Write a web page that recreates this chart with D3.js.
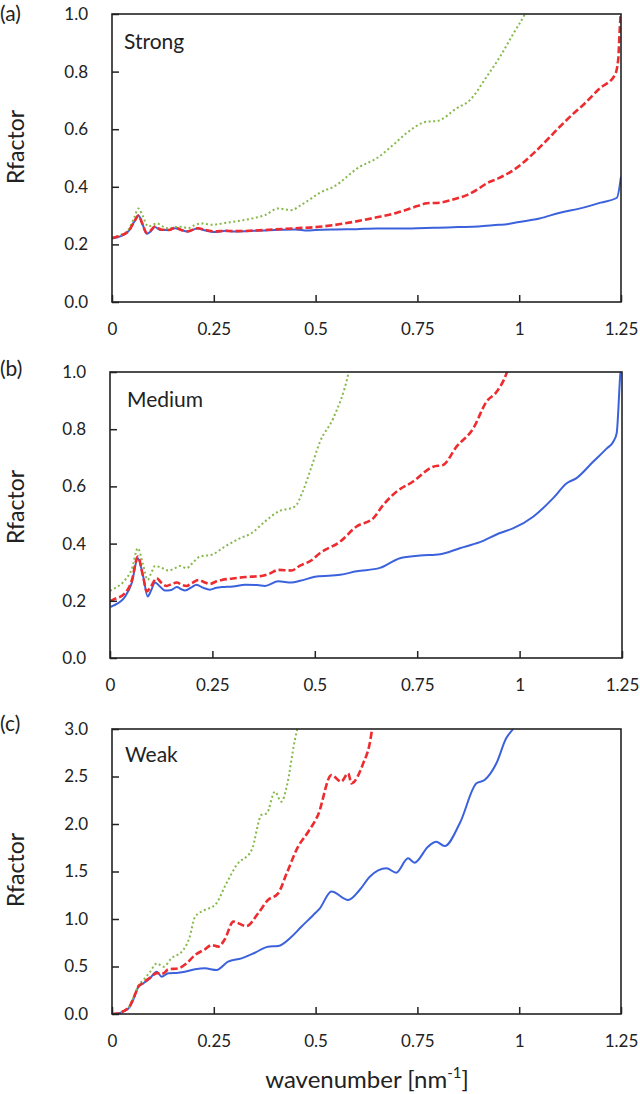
<!DOCTYPE html>
<html><head><meta charset="utf-8">
<script src="https://cdn.jsdelivr.net/npm/d3@7"></script>
<style>body{margin:0;background:#fff}svg{display:block}text{font-family:Lato,"Open Sans",sans-serif;fill:#222}</style>
</head><body>
<svg id="c" width="640" height="1094"></svg>
<script>
// ---- data ----
const xTicks = [0, 0.25, 0.5, 0.75, 1, 1.25];
const xTickLabels = ["0", "0.25", "0.5", "0.75", "1", "1.25"];
const yTicksAB = [0, 0.2, 0.4, 0.6, 0.8, 1.0];
const yTicksC = [0, 0.5, 1.0, 1.5, 2.0, 2.5, 3.0];
const panelNames = ["Strong", "Medium", "Weak"];
const panelTags = ["(a)", "(b)", "(c)"];

const strongSolid = [[0,0.22],[0.02,0.228],[0.04,0.245],[0.055,0.28],[0.065,0.30],[0.075,0.27],[0.085,0.237],[0.095,0.245],[0.105,0.26],[0.12,0.25],[0.14,0.25],[0.155,0.256],[0.17,0.25],[0.185,0.245],[0.21,0.255],[0.23,0.248],[0.25,0.243],[0.28,0.247],[0.3,0.245],[0.35,0.247],[0.4,0.25],[0.45,0.252],[0.48,0.248],[0.5,0.25],[0.55,0.252],[0.6,0.253],[0.65,0.255],[0.7,0.255],[0.75,0.256],[0.8,0.258],[0.85,0.26],[0.9,0.262],[0.95,0.268],[0.97,0.27],[1.0,0.278],[1.05,0.29],[1.1,0.31],[1.15,0.325],[1.2,0.345],[1.24,0.362],[1.25,0.435]];
const strongDashed = [[0,0.222],[0.02,0.23],[0.04,0.245],[0.055,0.28],[0.065,0.30],[0.075,0.27],[0.085,0.24],[0.095,0.248],[0.105,0.262],[0.12,0.252],[0.14,0.25],[0.155,0.258],[0.17,0.25],[0.185,0.245],[0.21,0.256],[0.23,0.25],[0.25,0.245],[0.28,0.247],[0.3,0.246],[0.35,0.248],[0.4,0.252],[0.45,0.256],[0.5,0.26],[0.544,0.267],[0.6,0.28],[0.65,0.294],[0.7,0.31],[0.75,0.333],[0.773,0.343],[0.806,0.345],[0.84,0.357],[0.871,0.371],[0.9,0.393],[0.92,0.412],[0.95,0.43],[0.986,0.458],[1.035,0.516],[1.07,0.565],[1.1,0.609],[1.13,0.65],[1.157,0.684],[1.198,0.742],[1.235,0.788],[1.243,0.84],[1.247,0.95],[1.25,1.02]];
const strongDotted = [[0,0.222],[0.02,0.232],[0.04,0.25],[0.055,0.295],[0.065,0.325],[0.075,0.3],[0.089,0.262],[0.1,0.268],[0.11,0.273],[0.125,0.262],[0.138,0.255],[0.155,0.26],[0.171,0.261],[0.187,0.256],[0.2,0.265],[0.22,0.273],[0.245,0.268],[0.28,0.275],[0.31,0.281],[0.35,0.292],[0.376,0.302],[0.408,0.325],[0.441,0.319],[0.462,0.335],[0.49,0.36],[0.511,0.38],[0.544,0.40],[0.609,0.47],[0.65,0.499],[0.69,0.545],[0.723,0.586],[0.773,0.626],[0.797,0.628],[0.846,0.672],[0.879,0.701],[0.92,0.782],[0.953,0.852],[0.986,0.933],[1.014,1.0],[1.03,1.05]];

const mediumSolid = [[0,0.178],[0.008,0.183],[0.037,0.215],[0.053,0.262],[0.068,0.349],[0.081,0.285],[0.092,0.215],[0.1,0.235],[0.11,0.264],[0.122,0.25],[0.134,0.236],[0.15,0.238],[0.163,0.248],[0.175,0.24],[0.183,0.236],[0.2,0.248],[0.211,0.256],[0.228,0.245],[0.244,0.239],[0.26,0.246],[0.273,0.248],[0.3,0.25],[0.33,0.256],[0.36,0.255],[0.378,0.252],[0.411,0.268],[0.443,0.264],[0.464,0.27],[0.505,0.285],[0.562,0.291],[0.602,0.303],[0.659,0.315],[0.708,0.349],[0.757,0.358],[0.806,0.363],[0.854,0.384],[0.903,0.405],[0.952,0.437],[0.985,0.454],[1.034,0.495],[1.082,0.559],[1.115,0.611],[1.139,0.629],[1.18,0.687],[1.213,0.733],[1.229,0.757],[1.237,0.786],[1.246,0.995],[1.25,1.05]];
const mediumDashed = [[0,0.198],[0.008,0.204],[0.037,0.227],[0.053,0.27],[0.068,0.355],[0.08,0.29],[0.09,0.233],[0.1,0.25],[0.114,0.279],[0.126,0.262],[0.138,0.252],[0.15,0.258],[0.163,0.264],[0.175,0.256],[0.187,0.252],[0.2,0.262],[0.216,0.273],[0.23,0.265],[0.244,0.259],[0.26,0.268],[0.273,0.273],[0.3,0.278],[0.33,0.283],[0.37,0.287],[0.39,0.295],[0.411,0.308],[0.443,0.306],[0.464,0.323],[0.49,0.34],[0.513,0.367],[0.562,0.407],[0.602,0.46],[0.643,0.489],[0.667,0.535],[0.7,0.582],[0.74,0.617],[0.789,0.669],[0.813,0.675],[0.846,0.739],[0.887,0.803],[0.919,0.896],[0.944,0.931],[0.968,0.995],[0.98,1.05]];
const mediumDotted = [[0,0.235],[0.008,0.241],[0.037,0.273],[0.053,0.31],[0.068,0.384],[0.08,0.33],[0.092,0.273],[0.1,0.295],[0.11,0.322],[0.126,0.315],[0.142,0.306],[0.16,0.315],[0.171,0.322],[0.187,0.314],[0.2,0.33],[0.22,0.355],[0.248,0.361],[0.281,0.39],[0.313,0.416],[0.346,0.437],[0.378,0.477],[0.411,0.512],[0.452,0.53],[0.47,0.58],[0.49,0.66],[0.513,0.757],[0.545,0.838],[0.582,0.995],[0.59,1.05]];

const weakSolid = [[0,0],[0.015,0.005],[0.028,0.024],[0.044,0.077],[0.055,0.18],[0.065,0.288],[0.077,0.323],[0.093,0.375],[0.11,0.445],[0.122,0.393],[0.138,0.428],[0.163,0.435],[0.179,0.445],[0.204,0.47],[0.228,0.481],[0.257,0.463],[0.285,0.551],[0.318,0.586],[0.351,0.645],[0.383,0.709],[0.408,0.716],[0.441,0.814],[0.465,0.919],[0.494,1.04],[0.51,1.11],[0.539,1.29],[0.58,1.2],[0.608,1.305],[0.633,1.445],[0.674,1.534],[0.698,1.487],[0.727,1.639],[0.743,1.593],[0.776,1.761],[0.796,1.814],[0.817,1.768],[0.854,2.007],[0.895,2.428],[0.915,2.463],[0.944,2.639],[0.968,2.902],[0.985,3.0],[1.0,3.1]];
const weakDashed = [[0,0],[0.015,0.005],[0.028,0.03],[0.044,0.085],[0.055,0.19],[0.065,0.29],[0.077,0.33],[0.093,0.38],[0.11,0.43],[0.126,0.428],[0.138,0.47],[0.163,0.481],[0.183,0.533],[0.204,0.621],[0.228,0.681],[0.245,0.726],[0.261,0.709],[0.277,0.786],[0.298,0.972],[0.33,0.926],[0.359,1.06],[0.383,1.2],[0.408,1.27],[0.429,1.481],[0.457,1.761],[0.482,1.919],[0.506,2.095],[0.539,2.516],[0.563,2.446],[0.58,2.534],[0.588,2.428],[0.617,2.639],[0.633,2.849],[0.639,3.0],[0.645,3.1]];
const weakDotted = [[0,0],[0.015,0.005],[0.028,0.03],[0.044,0.09],[0.055,0.2],[0.065,0.3],[0.077,0.358],[0.093,0.44],[0.11,0.533],[0.126,0.498],[0.146,0.586],[0.175,0.674],[0.19,0.8],[0.204,1.024],[0.228,1.095],[0.253,1.147],[0.281,1.376],[0.306,1.568],[0.343,1.726],[0.367,2.095],[0.38,2.112],[0.4,2.34],[0.416,2.235],[0.429,2.393],[0.449,2.884],[0.455,3.0],[0.46,3.1]];

// ---- layout ----
const panels = [
  {left:112,right:621,top:14,bottom:302,yMax:1.0,yTicks:yTicksAB,series:[strongSolid,strongDotted,strongDashed],tagY:21,ylabY:147,nameY:49,nameX:124},
  {left:110,right:622,top:372,bottom:658,yMax:1.0,yTicks:yTicksAB,series:[mediumSolid,mediumDotted,mediumDashed],tagY:376,ylabY:507,nameY:407,nameX:127},
  {left:112,right:621,top:729,bottom:1014,yMax:3.0,yTicks:yTicksC,series:[weakSolid,weakDotted,weakDashed],tagY:731,ylabY:870,nameY:762,nameX:125}
];
const styles = [
  {color:"#3b62dc",width:2,dash:null},
  {color:"#86b84a",width:2,dash:"2,2.6"},
  {color:"#ee2b2e",width:2.6,dash:"7,3"}
];

const svg = d3.select("#c");
panels.forEach((p,i)=>{
  const x = d3.scaleLinear().domain([0,1.25]).range([p.left,p.right]);
  const y = d3.scaleLinear().domain([0,p.yMax]).range([p.bottom,p.top]);
  const g = svg.append("g");
  const cid = "clip"+i;
  svg.append("clipPath").attr("id",cid).append("rect")
    .attr("x",p.left).attr("y",p.top).attr("width",p.right-p.left).attr("height",p.bottom-p.top);

  const line = d3.line().x(d=>x(d[0])).y(d=>y(d[1])).curve(d3.curveMonotoneX);
  const lg = g.append("g").attr("clip-path",`url(#${cid})`);
  p.series.forEach((s,k)=>{
    const st = styles[k];
    lg.append("path").datum(s).attr("d",line).attr("fill","none")
      .attr("stroke",st.color).attr("stroke-width",st.width)
      .attr("stroke-dasharray",st.dash).attr("stroke-linejoin","round");
  });

  const ya = d3.axisLeft(y).tickValues(p.yTicks).tickFormat(d3.format(".1f")).tickSize(-7).tickPadding(24);
  const yg = g.append("g").attr("transform",`translate(${p.left},0)`).call(ya);
  const xa = d3.axisBottom(x).tickValues(xTicks).tickFormat((d,j)=>xTickLabels[j]).tickSize(-7).tickPadding(21);
  const xg = g.append("g").attr("transform",`translate(0,${p.bottom})`).call(xa);
  [yg,xg].forEach(a=>{
    a.select(".domain").remove();
    a.selectAll(".tick line").attr("stroke","#222").attr("stroke-width",1.5);
    a.selectAll(".tick text").attr("font-size",17).attr("font-family","Lato").attr("fill","#222");
  });
  g.append("rect").attr("x",p.left).attr("y",p.top).attr("width",p.right-p.left).attr("height",p.bottom-p.top)
    .attr("fill","none").attr("stroke","#222").attr("stroke-width",1.6);

  g.append("text").attr("x",0).attr("y",p.tagY).attr("font-size",21).text(panelTags[i]);
  g.append("text").attr("transform",`translate(24,${p.ylabY}) rotate(-90)`).attr("text-anchor","middle")
    .attr("font-size",23).text("Rfactor");
  g.append("text").attr("x",p.nameX).attr("y",p.nameY).attr("font-size",21).text(panelNames[i]);
});

const t = svg.append("text").attr("x",367).attr("y",1088).attr("text-anchor","middle").attr("font-size",24);
t.append("tspan").text("wavenumber [nm");
t.append("tspan").attr("font-size",15).attr("dy",-10).text("-1");
t.append("tspan").attr("dy",10).text("]");
</script>
</body></html>
